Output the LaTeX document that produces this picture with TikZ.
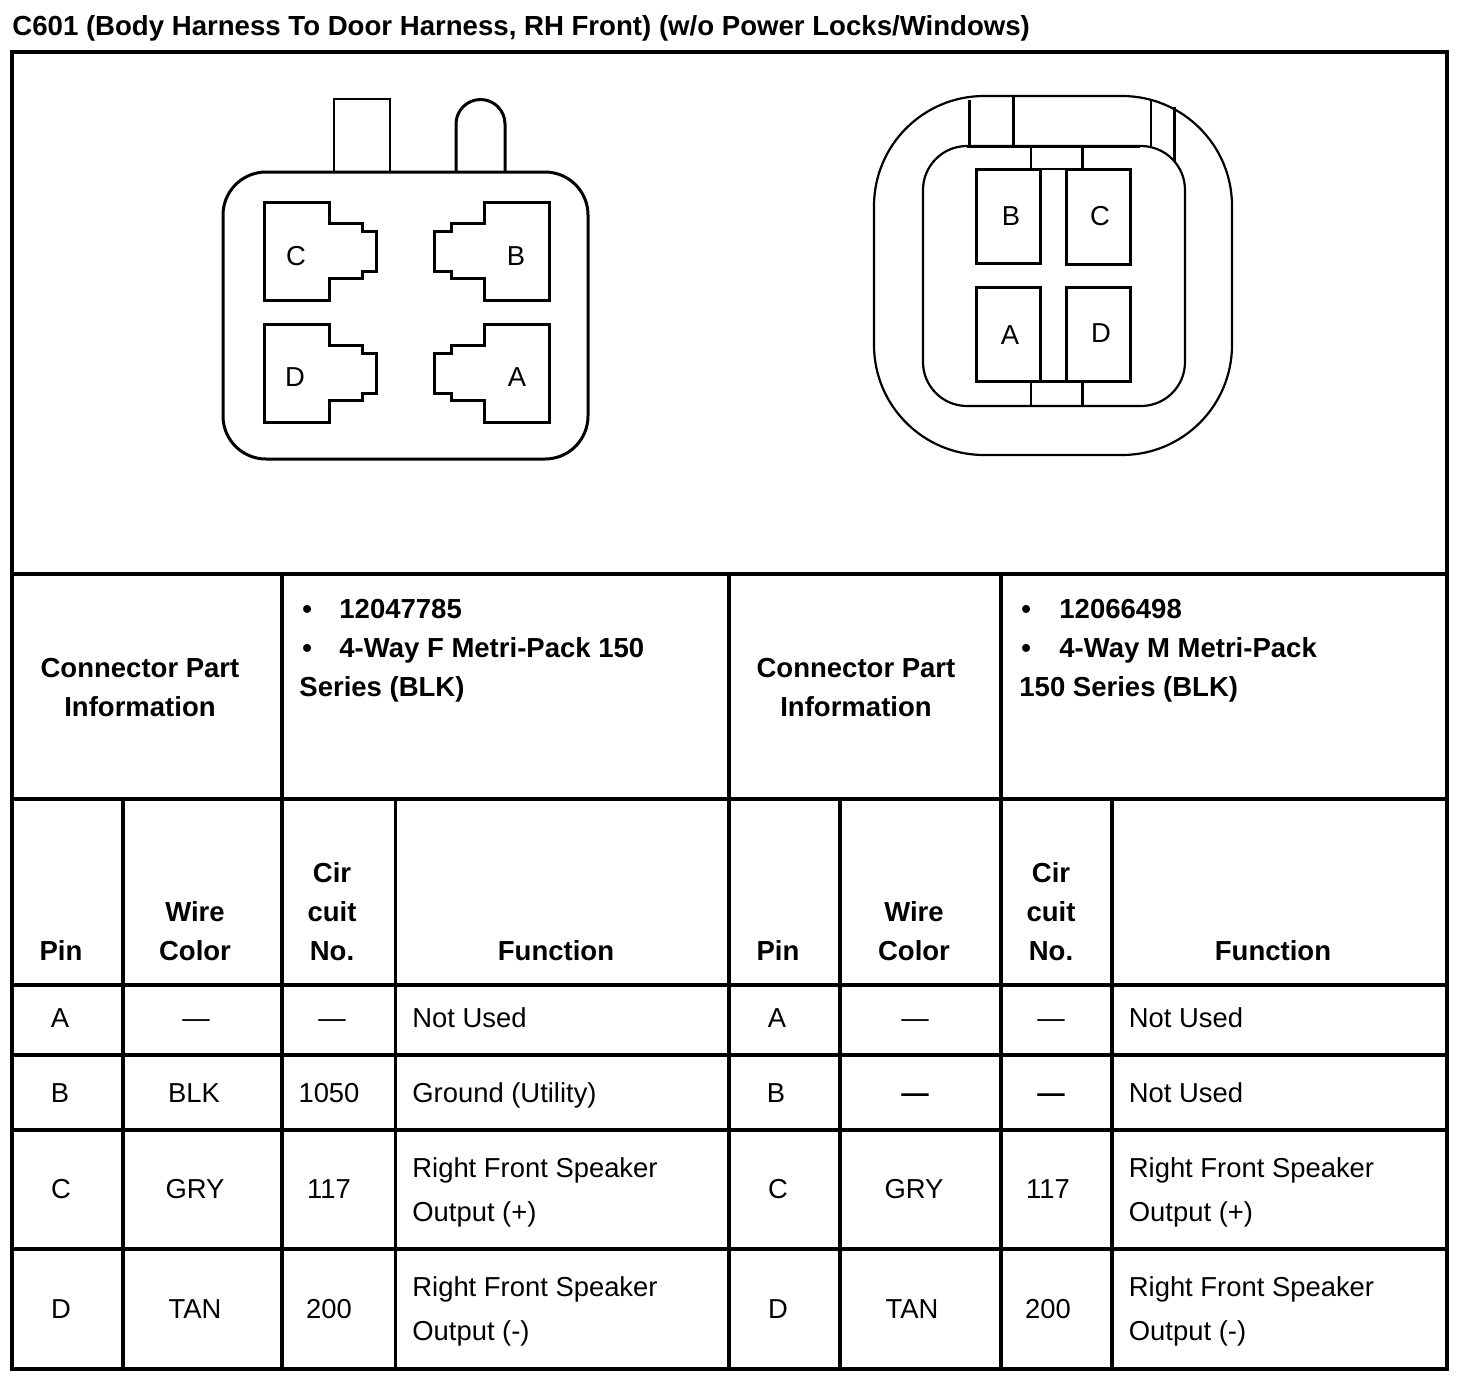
\documentclass[tikz,border=0pt]{standalone}
\usepackage{fontspec}
\setmainfont{Liberation Sans}
\tikzset{
    rule/.style={line width=1.7pt,line cap=rect},
    heavy/.style={line width=1.5pt,line join=miter},
    light/.style={line width=0.8pt},
    outline/.style={line width=1.1pt},
    body/.style={anchor=base,inner sep=0pt,font=\fontsize{13.7pt}{16pt}\selectfont},
    head/.style={anchor=base,inner sep=0pt,font=\fontsize{13.76pt}{16pt}\selectfont\bfseries},
    bodyleft/.style={body,anchor=base west},
    headleft/.style={head,anchor=base west}
}
\begin{document}
\begin{tikzpicture}[x=0.5pt,y=-0.5pt]
		\useasboundingbox (0,0) rectangle (1472,1382);
		\node[headleft,font=\fontsize{13.8pt}{16pt}\selectfont\bfseries] (title) at (12,35) {C601 (Body Harness To Door Harness, RH Front) (w/o Power Locks/Windows)};

		% table rules
		\foreach \y in {52,574,799,985,1055,1130,1249,1369}
			\draw[rule] (12,\y) -- (1447,\y);
		\foreach \x in {12,1447}
			\draw[rule] (\x,52) -- (\x,1369);
		\foreach \x in {282,729,1001}
			\draw[rule] (\x,574) -- (\x,1369);
		\foreach \x in {123,395.5,840,1112}
			\draw[rule] (\x,799) -- (\x,1369);

		% left connector
		\draw[heavy,rounded corners=21.5pt] (223,172) rectangle (588,459);
		\draw[light] (334,172) -- (334,99) -- (390,99) -- (390,172);
		\draw[heavy] (456,172) -- (456,124) arc[start angle=180,end angle=360,radius=24.5] -- (505,172);
		\foreach \x/\y/\s/\t in {264/202/1/112,264/324/1/112,549/202/-1/115,549/324/-1/115}
			\draw[heavy,shift={(\x,\y)},xscale=\s] (0,0) -- (65,0) -- (65,21) -- (98,21) -- (98,29) -- (\t,29)
			 -- (\t,69) -- (98,69) -- (98,76) -- (65,76) -- (65,98) -- (0,98) -- cycle;
		\node[body] (lc) at (296,265) {C};
		\node[body] (lb) at (516,265) {B};
		\node[body] (ld) at (295,386) {D};
		\node[body] (la) at (517,386) {A};

		% right connector
		\draw[outline,rounded corners=55pt] (874,96) rectangle (1232,455);
		\draw[outline,rounded corners=22pt] (923,146) rectangle (1185,406);
		\draw[heavy] (969,100) -- (969,146);
		\draw[heavy] (1013,96) -- (1013,146);
		\draw[light] (1151,99) -- (1151,147);
		\draw[heavy] (1174,107) -- (1174,162);
		\draw[heavy] (967,146) -- (1140,146);
		\draw[light] (1031,146) -- (1031,169);
		\draw[heavy] (1082,146) -- (1082,169);
		\draw[light] (1031,381) -- (1031,406);
		\draw[heavy] (1082,381) -- (1082,406);
		\draw[heavy] (976,169) rectangle (1040,263);
		\draw[heavy] (1066,169) rectangle (1130,264);
		\draw[heavy] (976,287) rectangle (1040,381);
		\draw[heavy] (1066,287) rectangle (1130,381);
		\draw[light] (1040,169) -- (1066,169);
		\draw[heavy] (1040,381) -- (1066,381);
		\node[body] (rb) at (1011,225) {B};
		\node[body] (rc) at (1100,225) {C};
		\node[body] (ra) at (1010,344) {A};
		\node[body] (rd) at (1101,342) {D};

		% part information
		\foreach \x/\n in {140/l,856/r}{
			\node[head] (part\n) at (\x,677) {Connector Part};
			\node[head] (info\n) at (\x,716) {Information};
		}
		\node[headleft] (bulla) at (302,618) {•};
		\node[headleft] (nola) at (339,618) {12047785};
		\node[headleft] (bullb) at (302,657) {•};
		\node[headleft] (waya) at (339,657) {4-Way F Metri-Pack 150};
		\node[headleft] (sera) at (299,696) {Series (BLK)};
		\node[headleft] (bullc) at (1021,618) {•};
		\node[headleft] (nolb) at (1059,618) {12066498};
		\node[headleft] (bulld) at (1021,657) {•};
		\node[headleft] (wayb) at (1059,657) {4-Way M Metri-Pack};
		\node[headleft] (serb) at (1019,696) {150 Series (BLK)};

		% column heads
		\foreach \a/\b/\c/\d/\n in {61/195/332/556/l,778/914/1051/1273/r}{
			\node[head] (pin\n) at (\a,960) {Pin};
			\node[head] (wire\n) at (\b,921) {Wire};
			\node[head] (color\n) at (\b,960) {Color};
			\node[head] (cir\n) at (\c,882) {Cir};
			\node[head] (cuit\n) at (\c,921) {cuit};
			\node[head] (no\n) at (\c,960) {No.};
			\node[head] (func\n) at (\d,960) {Function};
		}

		% pin rows
		\foreach \x/\y/\t [count=\i] in {60/1027/A,60/1102/B,61/1198/C,61/1318/D,
			777/1027/A,776/1102/B,778/1198/C,778/1318/D,
			194/1102/BLK,195/1198/GRY,195/1318/TAN,914/1198/GRY,912/1318/TAN,
			329/1102/1050,329/1198/117,329/1318/200,1048/1198/117,1048/1318/200,
			196/1027/—,332/1027/—,915/1027/—,1051/1027/—}
			\node[body] (cell\i) at (\x,\y) {\t};
		\node[body,font=\fontsize{13.7pt}{16pt}\selectfont\bfseries] (dasha) at (915,1102) {—};
		\node[body,font=\fontsize{13.7pt}{16pt}\selectfont\bfseries] (dashb) at (1051,1102) {—};

		% functions
		\foreach \x/\n in {412/l,1128.5/r}{
			\node[bodyleft] (fa\n) at (\x,1027) {Not Used};
			\node[bodyleft] (fc\n) at (\x,1177) {Right Front Speaker};
			\node[bodyleft] (fd\n) at (\x,1221) {Output (+)};
			\node[bodyleft] (fe\n) at (\x,1296) {Right Front Speaker};
			\node[bodyleft] (ff\n) at (\x,1340) {Output (-)};
		}
		\node[bodyleft] (fbl) at (412,1102) {Ground (Utility)};
		\node[bodyleft] (fbr) at (1128.5,1102) {Not Used};
\end{tikzpicture}
\end{document}
